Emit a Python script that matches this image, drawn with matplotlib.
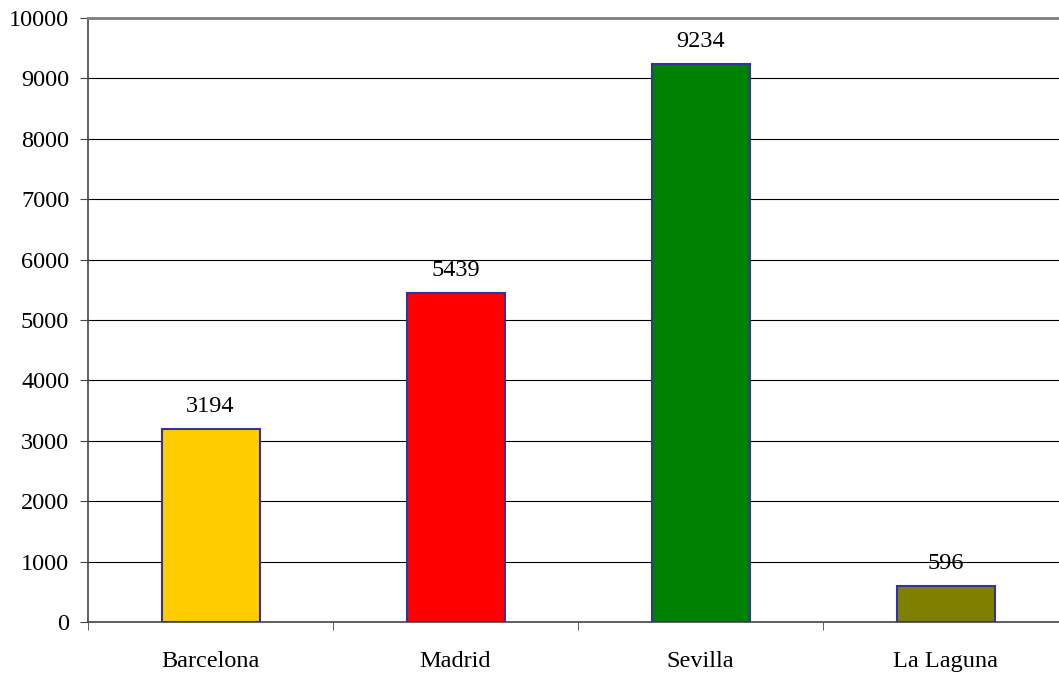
import matplotlib
matplotlib.use("Agg")
import matplotlib.pyplot as plt
import numpy as np

categories = ["Barcelona", "Madrid", "Sevilla", "La Laguna"]
values = [3194, 5439, 9234, 596]
colors = ["#FFCC00", "#FF0000", "#008000", "#808000"]
yticks = [0, 1000, 2000, 3000, 4000, 5000, 6000, 7000, 8000, 9000, 10000]

plt.rcParams["font.family"] = ["Liberation Serif", "DejaVu Serif"]
FS = 17.5

fig = plt.figure(figsize=(10.59, 6.77), dpi=100)
ax = fig.add_axes([88/1059, 1-622/677, 980/1059, (622-18)/677])

x = np.arange(len(categories))
ax.bar(x, values, width=0.4, color=colors, edgecolor="#333399", linewidth=1.5, zorder=3)
for xi, v in zip(x, values):
    ax.annotate(str(v), (xi, v), xytext=(0, 9), textcoords="offset points",
                ha="center", va="bottom", fontsize=FS, zorder=4)

ax.set_xlim(-0.5, 3.5)
ax.set_ylim(0, 10000)
ax.set_yticks(yticks)
ax.set_yticklabels([str(t) for t in yticks], fontsize=FS)
ax.yaxis.grid(True, color="black", linewidth=0.8, zorder=0)
ax.set_axisbelow(True)

ax.set_xticks(x)
ax.set_xticklabels(categories, fontsize=FS)
ax.tick_params(axis="x", which="major", length=0, pad=21)
ax.set_xticks(np.arange(-0.5, 4.0, 1.0), minor=True)
ax.tick_params(axis="x", which="minor", length=5.5, direction="out", color="#444444")
ax.tick_params(axis="y", length=5.5, direction="out", color="#444444", pad=8)

ax.spines["right"].set_visible(False)
ax.spines["top"].set_color("#808080")
ax.spines["top"].set_linewidth(2)
ax.spines["left"].set_color("#444444")
ax.spines["left"].set_linewidth(1.2)
ax.spines["bottom"].set_color("#444444")
ax.spines["bottom"].set_linewidth(1.2)

fig.savefig("out.png", dpi=100)
